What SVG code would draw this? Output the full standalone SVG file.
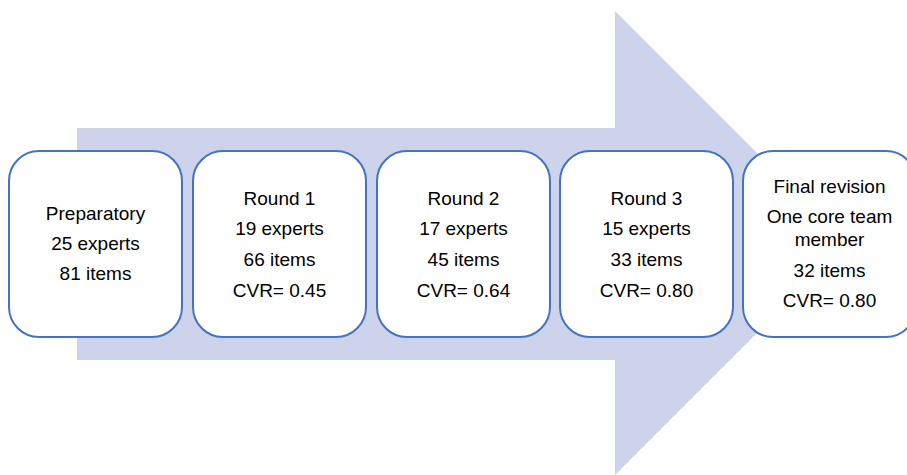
<svg xmlns="http://www.w3.org/2000/svg" width="907" height="475" viewBox="0 0 907 475">
<style>
.box{fill:#ffffff;stroke:#4472C4;stroke-width:2}
.t{font-family:"Liberation Sans",Arial,sans-serif;font-size:19px;fill:#000;text-anchor:middle}
</style>
<rect width="907" height="475" fill="#ffffff"/>
<g id="arrow">
<path d="M77,128 L615,128 L615,11 L847,243 L615,475 L615,360 L77,360 Z" fill="#CDD3EB"/>
</g>
<g id="connectors"></g>
<g id="preparatory">
<rect class="box" x="9" y="151" width="173" height="186" rx="30"/>
<text class="t" x="95.5" y="220">Preparatory</text>
<text class="t" x="95.5" y="250">25 experts</text>
<text class="t" x="95.5" y="280">81 items</text>
</g>
<g id="round1">
<rect class="box" x="193" y="151" width="173" height="186" rx="30"/>
<text class="t" x="279.5" y="205">Round 1</text>
<text class="t" x="279.5" y="235">19 experts</text>
<text class="t" x="279.5" y="266">66 items</text>
<text class="t" x="279.5" y="297">CVR= 0.45</text>
</g>
<g id="round2">
<rect class="box" x="377" y="151" width="173" height="186" rx="30"/>
<text class="t" x="463.5" y="205">Round 2</text>
<text class="t" x="463.5" y="235">17 experts</text>
<text class="t" x="463.5" y="266">45 items</text>
<text class="t" x="463.5" y="297">CVR= 0.64</text>
</g>
<g id="round3">
<rect class="box" x="560" y="151" width="173" height="186" rx="30"/>
<text class="t" x="646.5" y="205">Round 3</text>
<text class="t" x="646.5" y="235">15 experts</text>
<text class="t" x="646.5" y="266">33 items</text>
<text class="t" x="646.5" y="297">CVR= 0.80</text>
</g>
<g id="final">
<rect class="box" x="743" y="151" width="173" height="186" rx="30"/>
<text class="t" x="829.5" y="193">Final revision</text>
<text class="t" x="829.5" y="223">One core team</text>
<text class="t" x="829.5" y="246">member</text>
<text class="t" x="829.5" y="277">32 items</text>
<text class="t" x="829.5" y="307">CVR= 0.80</text>
</g>
</svg>
